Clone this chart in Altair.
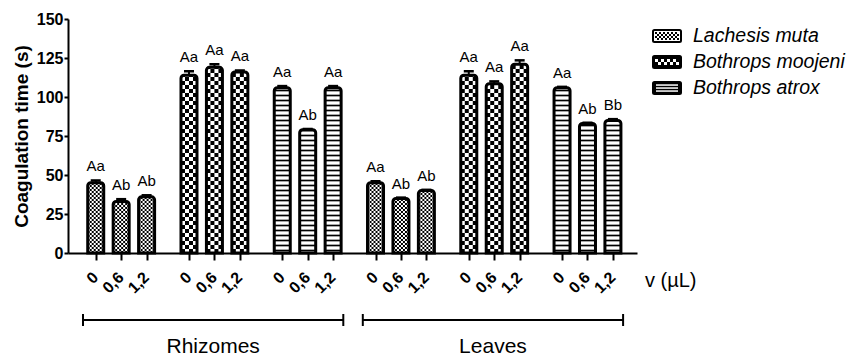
import math
import altair as alt
import pandas as pd

# ---- data -----------------------------------------------------------------
tissues = ["Rhizomes", "Leaves"]
species = ["Lachesis muta", "Bothrops moojeni", "Bothrops atrox"]
doses = ["0", "0,6", "1,2"]

# coagulation time (s), ordered species x dose
rhizome_means = [45, 33, 36, 114, 119, 116, 106, 79, 106]
rhizome_errors = [1.5, 1.5, 1.0, 2.5, 2.0, 1.0, 1.0, 0.5, 1.0]
rhizome_letters = ["Aa", "Ab", "Ab", "Aa", "Aa", "Aa", "Aa", "Ab", "Aa"]

leaf_means = [45, 35, 40, 114, 108.5, 121, 106, 83, 85]
leaf_errors = [1.0, 0.5, 0.5, 2.5, 1.5, 2.5, 0.5, 0.5, 0.8]
leaf_letters = ["Aa", "Ab", "Ab", "Aa", "Aa", "Aa", "Aa", "Ab", "Bb"]

unit_label = "v (µL)"

# ---- geometry --------------------------------------------------------------
W, H = 569, 234
X_DOMAIN = [-1.09, 21.28]
Y_MAX = 150
GROUP_STEP = 11 / 3
PX_X = W / (X_DOMAIN[1] - X_DOMAIN[0])
PX_Y = H / Y_MAX
HALF = 8 / PX_X
CAP = 5 / PX_X
FONT = "Liberation Sans"

rows = []
for t_i, (tissue, means, errs, letters) in enumerate(
    [(tissues[0], rhizome_means, rhizome_errors, rhizome_letters),
     (tissues[1], leaf_means, leaf_errors, leaf_letters)]):
    for s_i, sp in enumerate(species):
        for d_i, dose in enumerate(doses):
            j = s_i * 3 + d_i
            pos = (t_i * 3 + s_i) * GROUP_STEP + d_i
            rows.append(dict(tissue=tissue, species=sp, dose=dose, pos=pos,
                             value=means[j], err=errs[j], letter=letters[j],
                             top=means[j] + errs[j], base=0,
                             left=pos - HALF, right=pos + HALF,
                             capl=pos - CAP, capr=pos + CAP))
bars = pd.DataFrame(rows)


# ---- fill patterns (drawn in data units so they follow the scales) ---------
def checker(b, cell_px, ncols):
    out = []
    nrows = math.ceil(b.value * PX_Y / cell_px)
    for r in range(nrows):
        y0 = r * cell_px / PX_Y
        y1 = min((r + 1) * cell_px / PX_Y, b.value)
        for c in range(ncols):
            if (r + c) % 2 == 0:
                x0 = b.left + c * cell_px / PX_X
                out.append(dict(x0=x0, x1=min(x0 + cell_px / PX_X, b.right), y0=y0, y1=y1))
    return out


def stripes(b, gap_px=5, thick_px=1.7):
    out = []
    j = 0
    while (j + 0.5) * gap_px / PX_Y < b.value:
        yc = (j + 0.5) * gap_px / PX_Y
        out.append(dict(x0=b.left, x1=b.right,
                        y0=yc - thick_px / 2 / PX_Y,
                        y1=min(yc + thick_px / 2 / PX_Y, b.value)))
        j += 1
    return out


cells = []
for b in bars.itertuples():
    if b.species == species[0]:
        cells += checker(b, 2, 8)
    elif b.species == species[1]:
        cells += checker(b, 4, 4)
    else:
        cells += stripes(b)
cells = pd.DataFrame(cells)

xscale = alt.Scale(domain=X_DOMAIN, nice=False, zero=False)
yscale = alt.Scale(domain=[0, Y_MAX], nice=False)

x_axis = alt.Axis(values=list(bars.pos), tickCount=40, labels=False, title=None,
                  tickSize=7, tickWidth=2, tickColor="black",
                  domainWidth=2, domainColor="black", grid=False, zindex=2)
y_axis = alt.Axis(values=[0, 25, 50, 75, 100, 125, 150], tickCount=20,
                  title="Coagulation time (s)",
                  titleFont=FONT, titleFontSize=19, titleFontWeight="bold",
                  titleColor="black", titlePadding=5,
                  labelFont=FONT, labelFontSize=16, labelFontWeight="bold",
                  labelColor="black", labelPadding=1, labelOverlap=False,
                  tickSize=4, tickWidth=2, tickColor="black",
                  domainWidth=2, domainColor="black", grid=False, zindex=2)

pattern = alt.Chart(cells).mark_rect(color="black", strokeWidth=0).encode(
    x=alt.X("x0:Q", scale=xscale, axis=x_axis), x2="x1",
    y=alt.Y("y0:Q", scale=yscale, axis=y_axis), y2="y1")

outline = alt.Chart(bars).mark_rect(
    stroke="black", strokeWidth=3, fillOpacity=0,
    cornerRadiusTopLeft=3, cornerRadiusTopRight=3).encode(
    x="left:Q", x2="right", y="base:Q", y2="value")

err_stem = alt.Chart(bars).mark_rule(color="black", strokeWidth=2).encode(
    x="pos:Q", y="value:Q", y2="top")
err_cap = alt.Chart(bars).mark_rule(color="black", strokeWidth=2.5).encode(
    x="capl:Q", x2="capr", y="top:Q")

letters = alt.Chart(bars).mark_text(
    font=FONT, fontSize=15, baseline="bottom", dy=-6, color="black").encode(
    x="pos:Q", y="top:Q", text="letter:N")

# slanted dose labels under each tick
dose_labels = alt.Chart(bars).mark_text(
    font=FONT, fontSize=16, fontWeight="bold", angle=315, align="right",
    baseline="middle", color="black").encode(
    x="pos:Q", y=alt.value(H + 22), text="dose:N")

# group brackets under the axis
brk = bars.groupby("tissue", sort=False).agg(first=("pos", "min"), last=("pos", "max")).reset_index()
brk["start"] = brk["first"] - 0.5
brk["end"] = brk["last"] + 0.4
brk["mid"] = (brk["start"] + brk["end"]) / 2
ends = pd.concat([brk[["tissue", "start"]].rename(columns={"start": "edge"}),
                  brk[["tissue", "end"]].rename(columns={"end": "edge"})])

bracket = alt.Chart(brk).mark_rule(color="black", strokeWidth=2).encode(
    x="start:Q", x2="end", y=alt.value(301))
bracket_ends = alt.Chart(ends).mark_rule(color="black", strokeWidth=2).encode(
    x="edge:Q", y=alt.value(295), y2=alt.value(307))
bracket_text = alt.Chart(brk).mark_text(
    font=FONT, fontSize=21, baseline="alphabetic", color="black").encode(
    x="mid:Q", y=alt.value(334), text="tissue:N")

unit = alt.Chart(pd.DataFrame({"t": [unit_label]})).mark_text(
    font=FONT, fontSize=20, align="left", baseline="alphabetic", color="black").encode(
    x=alt.value(577), y=alt.value(268), text="t:N")

main = alt.layer(pattern, outline, err_stem, err_cap, letters, dose_labels,
                 bracket, bracket_ends, bracket_text, unit)

# ---- legend with pattern swatches (pixel space) ---------------------------
LEG_X0, LEG_X1 = 585, 613
leg_rows = [17, 43, 69]
leg_cells, leg_boxes = [], []
for i, (sp, cy) in enumerate(zip(species, leg_rows)):
    y0, y1 = cy - 6, cy + 6
    if i == 0:
        leg_boxes.append(dict(species=sp, x0=LEG_X0, x1=LEG_X1, y0=y0, y1=y1, fill="white"))
        for r in range(4):
            for c in range(12):
                if (r + c) % 2 == 0:
                    leg_cells.append(dict(x0=LEG_X0 + 2 + c * 2, x1=LEG_X0 + 4 + c * 2,
                                          y0=y0 + 2 + r * 2, y1=y0 + 4 + r * 2, fill="black"))
    elif i == 1:
        leg_boxes.append(dict(species=sp, x0=LEG_X0, x1=LEG_X1, y0=y0, y1=y1, fill="black"))
        for r in range(2):
            for c in range(8):
                if (r + c) % 2 == 0:
                    leg_cells.append(dict(x0=LEG_X0 + 2 + c * 3, x1=LEG_X0 + 5 + c * 3,
                                          y0=y0 + 3 + r * 3, y1=y0 + 6 + r * 3, fill="white"))
    else:
        leg_boxes.append(dict(species=sp, x0=LEG_X0, x1=LEG_X1, y0=y0, y1=y1, fill="black"))
        for k in range(3):
            leg_cells.append(dict(x0=LEG_X0 + 3, x1=LEG_X1 - 3,
                                  y0=y0 + 2.3 + k * 3, y1=y0 + 3.8 + k * 3, fill="white"))
leg_boxes = pd.DataFrame(leg_boxes)
leg_cells = pd.DataFrame(leg_cells)
leg_boxes["tx"] = 625
leg_boxes["ty"] = leg_rows

px = dict(scale=None, axis=None)
leg_box = alt.Chart(leg_boxes).mark_rect(stroke="black", strokeWidth=2, cornerRadius=1.5).encode(
    x=alt.X("x0:Q", **px), x2="x1", y=alt.Y("y0:Q", **px), y2="y1",
    fill=alt.Fill("fill:N", scale=None))
leg_pat = alt.Chart(leg_cells).mark_rect(strokeWidth=0).encode(
    x=alt.X("x0:Q", **px), x2="x1", y=alt.Y("y0:Q", **px), y2="y1",
    fill=alt.Fill("fill:N", scale=None))
leg_text = alt.Chart(leg_boxes).mark_text(
    font=FONT, fontSize=19.5, fontStyle="italic", align="left", baseline="middle",
    color="black").encode(
    x=alt.X("tx:Q", **px), y=alt.Y("ty:Q", **px), text="species:N")

legend = alt.layer(leg_box, leg_pat, leg_text)

chart = alt.layer(main, legend).resolve_scale(
    x="independent", y="independent", fill="independent"
).properties(
    width=W, height=H,
    autosize=alt.AutoSizeParams(type="none"),
    padding={"left": 68, "top": 19, "right": 211, "bottom": 103},
    background="white",
).configure_view(stroke=None)

chart.save("out.html", embed_options={"renderer": "svg", "actions": False})
